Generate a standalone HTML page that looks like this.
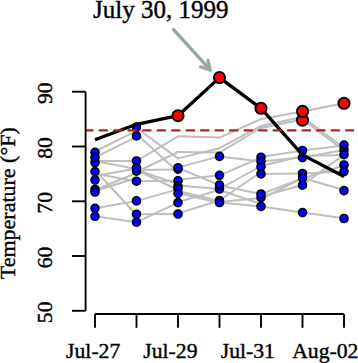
<!DOCTYPE html>
<html><head><meta charset="utf-8"><style>
html,body{margin:0;padding:0;background:#fff;}
body{width:358px;height:363px;overflow:hidden;}
svg{display:block;}
</style></head><body>
<svg width="358" height="363" viewBox="0 0 358 363">
<g stroke="#bebebe" stroke-width="2.0" stroke-linecap="round" fill="none">
<line x1="95.0" y1="151.5" x2="136.5" y2="130.8"/>
<line x1="95.0" y1="157.4" x2="136.5" y2="136.8"/>
<line x1="95.0" y1="161" x2="136.5" y2="161"/>
<line x1="95.0" y1="161" x2="136.5" y2="169"/>
<line x1="95.0" y1="176" x2="136.5" y2="168.5"/>
<line x1="95.0" y1="173.5" x2="136.5" y2="181.4"/>
<line x1="95.0" y1="170" x2="136.5" y2="215"/>
<line x1="95.0" y1="190" x2="136.5" y2="173"/>
<line x1="95.0" y1="191" x2="136.5" y2="178"/>
<line x1="95.0" y1="208.3" x2="136.5" y2="200.9"/>
<line x1="95.0" y1="216.3" x2="136.5" y2="222.2"/>
<line x1="136.5" y1="128" x2="178.0" y2="158.4"/>
<line x1="136.5" y1="134" x2="178.0" y2="172"/>
<line x1="136.5" y1="161.0" x2="178.0" y2="136.3"/>
<line x1="136.5" y1="172" x2="178.0" y2="152.0"/>
<line x1="136.5" y1="170" x2="178.0" y2="169.5"/>
<line x1="136.5" y1="170" x2="178.0" y2="184"/>
<line x1="136.5" y1="170" x2="178.0" y2="190"/>
<line x1="136.5" y1="181.2" x2="178.0" y2="180.7"/>
<line x1="136.5" y1="200.9" x2="178.0" y2="189.4"/>
<line x1="136.5" y1="214.2" x2="178.0" y2="214.0"/>
<line x1="136.5" y1="222.2" x2="178.0" y2="202.6"/>
<line x1="178.0" y1="136.3" x2="219.5" y2="137.6"/>
<line x1="178.0" y1="152.0" x2="219.5" y2="152.6"/>
<line x1="178.0" y1="158.4" x2="219.5" y2="148.2"/>
<line x1="178.0" y1="167.4" x2="219.5" y2="156.4"/>
<line x1="178.0" y1="168" x2="219.5" y2="185"/>
<line x1="178.0" y1="179.7" x2="219.5" y2="175.3"/>
<line x1="178.0" y1="185.5" x2="219.5" y2="189"/>
<line x1="178.0" y1="191" x2="219.5" y2="201"/>
<line x1="178.0" y1="193" x2="219.5" y2="203"/>
<line x1="178.0" y1="202" x2="219.5" y2="190"/>
<line x1="178.0" y1="213.4" x2="219.5" y2="200.5"/>
<line x1="219.5" y1="137.6" x2="261.0" y2="119"/>
<line x1="219.5" y1="148.2" x2="261.0" y2="126"/>
<line x1="219.5" y1="152.6" x2="261.0" y2="128"/>
<line x1="219.5" y1="156.4" x2="261.0" y2="161.5"/>
<line x1="219.5" y1="175.3" x2="261.0" y2="157.5"/>
<line x1="219.5" y1="189" x2="261.0" y2="166"/>
<line x1="219.5" y1="185.5" x2="261.0" y2="194"/>
<line x1="219.5" y1="190" x2="261.0" y2="204"/>
<line x1="219.5" y1="200.5" x2="261.0" y2="172"/>
<line x1="219.5" y1="202" x2="261.0" y2="198"/>
<line x1="219.5" y1="202.5" x2="261.0" y2="206.4"/>
<line x1="261.0" y1="119" x2="302.5" y2="111.5"/>
<line x1="261.0" y1="126" x2="302.5" y2="117"/>
<line x1="261.0" y1="128" x2="302.5" y2="119.5"/>
<line x1="261.0" y1="157" x2="302.5" y2="150.5"/>
<line x1="261.0" y1="161.5" x2="302.5" y2="157.6"/>
<line x1="261.0" y1="166" x2="302.5" y2="156"/>
<line x1="261.0" y1="173.9" x2="302.5" y2="173.5"/>
<line x1="261.0" y1="194" x2="302.5" y2="178.5"/>
<line x1="261.0" y1="196.5" x2="302.5" y2="185"/>
<line x1="261.0" y1="199" x2="302.5" y2="178"/>
<line x1="261.0" y1="206.4" x2="302.5" y2="212.6"/>
<line x1="302.5" y1="111.5" x2="344.0" y2="103.2"/>
<line x1="302.5" y1="117" x2="344.0" y2="148"/>
<line x1="302.5" y1="119.5" x2="344.0" y2="150.5"/>
<line x1="302.5" y1="150.5" x2="344.0" y2="145.5"/>
<line x1="302.5" y1="157.6" x2="344.0" y2="150"/>
<line x1="302.5" y1="156" x2="344.0" y2="155"/>
<line x1="302.5" y1="178.5" x2="344.0" y2="165.5"/>
<line x1="302.5" y1="173.5" x2="344.0" y2="171.5"/>
<line x1="302.5" y1="178" x2="344.0" y2="190"/>
<line x1="302.5" y1="185" x2="344.0" y2="154.6"/>
<line x1="302.5" y1="212.6" x2="344.0" y2="218.2"/>
</g>
<g fill="#0000ff" stroke="#000" stroke-width="1.6">
<circle cx="95.0" cy="152.4" r="4.0"/>
<circle cx="95.0" cy="162.5" r="4.0"/>
<circle cx="95.0" cy="157.6" r="4.0"/>
<circle cx="95.0" cy="171.6" r="4.0"/>
<circle cx="95.0" cy="180" r="4.0"/>
<circle cx="95.0" cy="189.4" r="4.0"/>
<circle cx="95.0" cy="192" r="4.0"/>
<circle cx="95.0" cy="208.3" r="4.0"/>
<circle cx="95.0" cy="216.3" r="4.0"/>
<circle cx="136.5" cy="127.1" r="4.0"/>
<circle cx="136.5" cy="135.9" r="4.0"/>
<circle cx="136.5" cy="161.0" r="4.0"/>
<circle cx="136.5" cy="171.2" r="4.0"/>
<circle cx="136.5" cy="168.0" r="4.0"/>
<circle cx="136.5" cy="181.2" r="4.0"/>
<circle cx="136.5" cy="200.9" r="4.0"/>
<circle cx="136.5" cy="214.2" r="4.0"/>
<circle cx="136.5" cy="222.2" r="4.0"/>
<circle cx="178.0" cy="169.1" r="4.0"/>
<circle cx="178.0" cy="167.7" r="4.0"/>
<circle cx="178.0" cy="180.7" r="4.0"/>
<circle cx="178.0" cy="186.1" r="4.0"/>
<circle cx="178.0" cy="188.6" r="4.0"/>
<circle cx="178.0" cy="193.3" r="4.0"/>
<circle cx="178.0" cy="202.6" r="4.0"/>
<circle cx="178.0" cy="214.0" r="4.0"/>
<circle cx="219.5" cy="156.4" r="4.0"/>
<circle cx="219.5" cy="175.3" r="4.0"/>
<circle cx="219.5" cy="189" r="4.0"/>
<circle cx="219.5" cy="185.1" r="4.0"/>
<circle cx="219.5" cy="200.5" r="4.0"/>
<circle cx="219.5" cy="202.5" r="4.0"/>
<circle cx="261.0" cy="157.2" r="4.0"/>
<circle cx="261.0" cy="161.5" r="4.0"/>
<circle cx="261.0" cy="167.0" r="4.0"/>
<circle cx="261.0" cy="173.9" r="4.0"/>
<circle cx="261.0" cy="197.5" r="4.0"/>
<circle cx="261.0" cy="194" r="4.0"/>
<circle cx="261.0" cy="206.4" r="4.0"/>
<circle cx="302.5" cy="150.5" r="4.0"/>
<circle cx="302.5" cy="157.6" r="4.0"/>
<circle cx="302.5" cy="173.5" r="4.0"/>
<circle cx="302.5" cy="178" r="4.0"/>
<circle cx="302.5" cy="185.2" r="4.0"/>
<circle cx="302.5" cy="212.6" r="4.0"/>
<circle cx="344.0" cy="150" r="4.0"/>
<circle cx="344.0" cy="145.1" r="4.0"/>
<circle cx="344.0" cy="154.6" r="4.0"/>
<circle cx="344.0" cy="165" r="4.0"/>
<circle cx="344.0" cy="171.6" r="4.0"/>
<circle cx="344.0" cy="190.6" r="4.0"/>
<circle cx="344.0" cy="218.5" r="4.0"/>
</g>
<polyline points="95.0,139.8 136.5,124.3 178.0,115.7 219.5,77.6 261.0,108.3 302.5,154.9 344.0,176.5" fill="none" stroke="#000" stroke-width="3.3" stroke-linejoin="round" stroke-linecap="butt"/>
<clipPath id="pr"><rect x="85" y="0" width="269" height="363"/></clipPath>
<line x1="85.2" y1="130.4" x2="358" y2="130.4" stroke="#b22222" stroke-width="2.4" stroke-dasharray="7.25 7.25" stroke-linecap="round" clip-path="url(#pr)"/>
<g fill="#ff0000" stroke="#000" stroke-width="1.9">
<circle cx="178.0" cy="115.7" r="5.6"/>
<circle cx="219.5" cy="77.6" r="5.6"/>
<circle cx="261.0" cy="108.3" r="5.6"/>
<circle cx="302.5" cy="120.1" r="5.6"/>
<circle cx="302.5" cy="111.4" r="5.6"/>
<circle cx="344.0" cy="103.3" r="5.6"/>
</g>
<g stroke="#98aaa0" stroke-width="3.3" fill="none" stroke-linecap="round" stroke-linejoin="round">
<line x1="173.6" y1="29.6" x2="210.2" y2="69.9"/>
<polyline points="200.6,66.9 210.2,69.9 207.9,60.4"/>
</g>
<g stroke="#000" stroke-width="1.9" fill="none" stroke-linecap="butt">
<line x1="85.6" y1="91.7" x2="85.6" y2="310.8"/>
<line x1="72" y1="91.7" x2="85.6" y2="91.7"/>
<line x1="72" y1="146.5" x2="85.6" y2="146.5"/>
<line x1="72" y1="201.3" x2="85.6" y2="201.3"/>
<line x1="72" y1="256.0" x2="85.6" y2="256.0"/>
<line x1="72" y1="310.8" x2="85.6" y2="310.8"/>
<line x1="95.0" y1="314" x2="344.0" y2="314"/>
<line x1="95.0" y1="314" x2="95.0" y2="327.8"/>
<line x1="136.5" y1="314" x2="136.5" y2="327.8"/>
<line x1="178.0" y1="314" x2="178.0" y2="327.8"/>
<line x1="219.5" y1="314" x2="219.5" y2="327.8"/>
<line x1="261.0" y1="314" x2="261.0" y2="327.8"/>
<line x1="302.5" y1="314" x2="302.5" y2="327.8"/>
<line x1="344.0" y1="314" x2="344.0" y2="327.8"/>
</g>
<text x="93" y="17.6" style="font-family:'Liberation Serif',serif" stroke="#000" stroke-width="0.4" font-size="25">July 30, 1999</text>
<text x="93.2" y="358.4" style="font-family:'Liberation Serif',serif" stroke="#000" stroke-width="0.4" font-size="21.7" text-anchor="middle">Jul-27</text>
<text x="170.4" y="358.4" style="font-family:'Liberation Serif',serif" stroke="#000" stroke-width="0.4" font-size="21.7" text-anchor="middle">Jul-29</text>
<text x="247.8" y="358.4" style="font-family:'Liberation Serif',serif" stroke="#000" stroke-width="0.4" font-size="21.7" text-anchor="middle">Jul-31</text>
<text x="325.3" y="358.4" style="font-family:'Liberation Serif',serif" stroke="#000" stroke-width="0.4" font-size="21.7" text-anchor="middle">Aug-02</text>
<text transform="translate(52.2,93.2) rotate(-90)" style="font-family:'Liberation Serif',serif" stroke="#000" stroke-width="0.4" font-size="21.7" text-anchor="middle">90</text>
<text transform="translate(52.2,148.0) rotate(-90)" style="font-family:'Liberation Serif',serif" stroke="#000" stroke-width="0.4" font-size="21.7" text-anchor="middle">80</text>
<text transform="translate(52.2,202.8) rotate(-90)" style="font-family:'Liberation Serif',serif" stroke="#000" stroke-width="0.4" font-size="21.7" text-anchor="middle">70</text>
<text transform="translate(52.2,257.5) rotate(-90)" style="font-family:'Liberation Serif',serif" stroke="#000" stroke-width="0.4" font-size="21.7" text-anchor="middle">60</text>
<text transform="translate(52.2,312.3) rotate(-90)" style="font-family:'Liberation Serif',serif" stroke="#000" stroke-width="0.4" font-size="21.7" text-anchor="middle">50</text>
<text transform="translate(15.1,203.2) rotate(-90)" style="font-family:'Liberation Serif',serif" stroke="#000" stroke-width="0.4" font-size="22" text-anchor="middle">Temperature (°F)</text>
</svg>
</body></html>
